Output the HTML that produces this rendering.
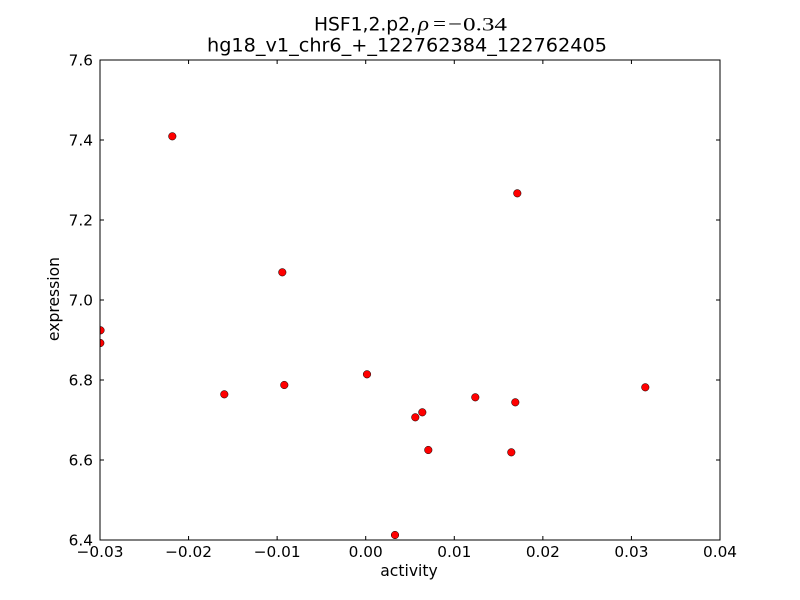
<!DOCTYPE html>
<html>
<head>
<meta charset="utf-8">
<style>
html,body{margin:0;padding:0;background:#fff;}
svg{display:block;}
text{font-family:"DejaVu Sans","Liberation Sans",sans-serif;fill:#000;}
</style>
</head>
<body>
<svg width="800" height="600" viewBox="0 0 800 600" xmlns="http://www.w3.org/2000/svg">
<rect x="0" y="0" width="800" height="600" fill="#fff"/>
<defs>
<clipPath id="ax"><rect x="100" y="60" width="620" height="480"/></clipPath>
</defs>
<g clip-path="url(#ax)" fill="#ff0000" stroke="#000" stroke-width="0.5">
<circle cx="172.3" cy="136.3" r="3.8"/>
<circle cx="517.3" cy="193.3" r="3.8"/>
<circle cx="282.3" cy="272.3" r="3.8"/>
<circle cx="100.5" cy="330.3" r="3.8"/>
<circle cx="100.3" cy="343" r="3.8"/>
<circle cx="224.3" cy="394.3" r="3.8"/>
<circle cx="284.3" cy="385" r="3.8"/>
<circle cx="367" cy="374.3" r="3.8"/>
<circle cx="415.3" cy="417.3" r="3.8"/>
<circle cx="422.3" cy="412.3" r="3.8"/>
<circle cx="428.3" cy="450" r="3.8"/>
<circle cx="475.3" cy="397.3" r="3.8"/>
<circle cx="515.3" cy="402.3" r="3.8"/>
<circle cx="511.3" cy="452.3" r="3.8"/>
<circle cx="645.3" cy="387.3" r="3.8"/>
<circle cx="395" cy="535" r="3.8"/>
</g>
<rect x="100" y="60" width="620" height="480" fill="none" stroke="#000" stroke-width="1"/>
<g stroke="#000" stroke-width="1">
<path d="M188.57 540v-4M277.14 540v-4M365.71 540v-4M454.29 540v-4M542.86 540v-4M631.43 540v-4"/>
<path d="M188.57 60v4M277.14 60v4M365.71 60v4M454.29 60v4M542.86 60v4M631.43 60v4"/>
<path d="M100 460h4M100 380h4M100 300h4M100 220h4M100 140h4"/>
<path d="M720 460h-4M720 380h-4M720 300h-4M720 220h-4M720 140h-4"/>
</g>
<g font-size="15.3" text-anchor="middle">
<text x="100" y="557">−0.03</text>
<text x="188.57" y="557">−0.02</text>
<text x="277.14" y="557">−0.01</text>
<text x="365.71" y="557">0.00</text>
<text x="454.29" y="557">0.01</text>
<text x="542.86" y="557">0.02</text>
<text x="631.43" y="557">0.03</text>
<text x="720" y="557">0.04</text>
</g>
<g font-size="15.3" text-anchor="end">
<text x="93" y="545.5">6.4</text>
<text x="93" y="465.5">6.6</text>
<text x="93" y="385.5">6.8</text>
<text x="93" y="305.5">7.0</text>
<text x="93" y="225.5">7.2</text>
<text x="93" y="145.5">7.4</text>
<text x="93" y="65.5">7.6</text>
</g>
<text x="409" y="576" font-size="15.6" text-anchor="middle">activity</text>
<text transform="translate(59,299) rotate(-90)" font-size="15.6" text-anchor="middle">expression</text>
<text x="314" y="30.5" font-size="18.8" textLength="102" lengthAdjust="spacingAndGlyphs">HSF1,2.p2,</text>
<text x="418" y="30.5" style="font-family:'Liberation Serif',serif;font-style:italic;font-size:20px" textLength="11" lengthAdjust="spacingAndGlyphs">ρ</text>
<text x="433" y="30.5" style="font-family:'Liberation Serif',serif;font-size:20px" textLength="13" lengthAdjust="spacingAndGlyphs">=</text>
<text x="448" y="30.5" style="font-family:'Liberation Serif',serif;font-size:20px" textLength="14" lengthAdjust="spacingAndGlyphs">−</text>
<text x="463" y="30.5" style="font-family:'Liberation Serif',serif;font-size:19px" textLength="44" lengthAdjust="spacingAndGlyphs">0.34</text>
<text x="207" y="51.5" font-size="18.8" textLength="400" lengthAdjust="spacingAndGlyphs">hg18_v1_chr6_+_122762384_122762405</text>
</svg>
</body>
</html>
